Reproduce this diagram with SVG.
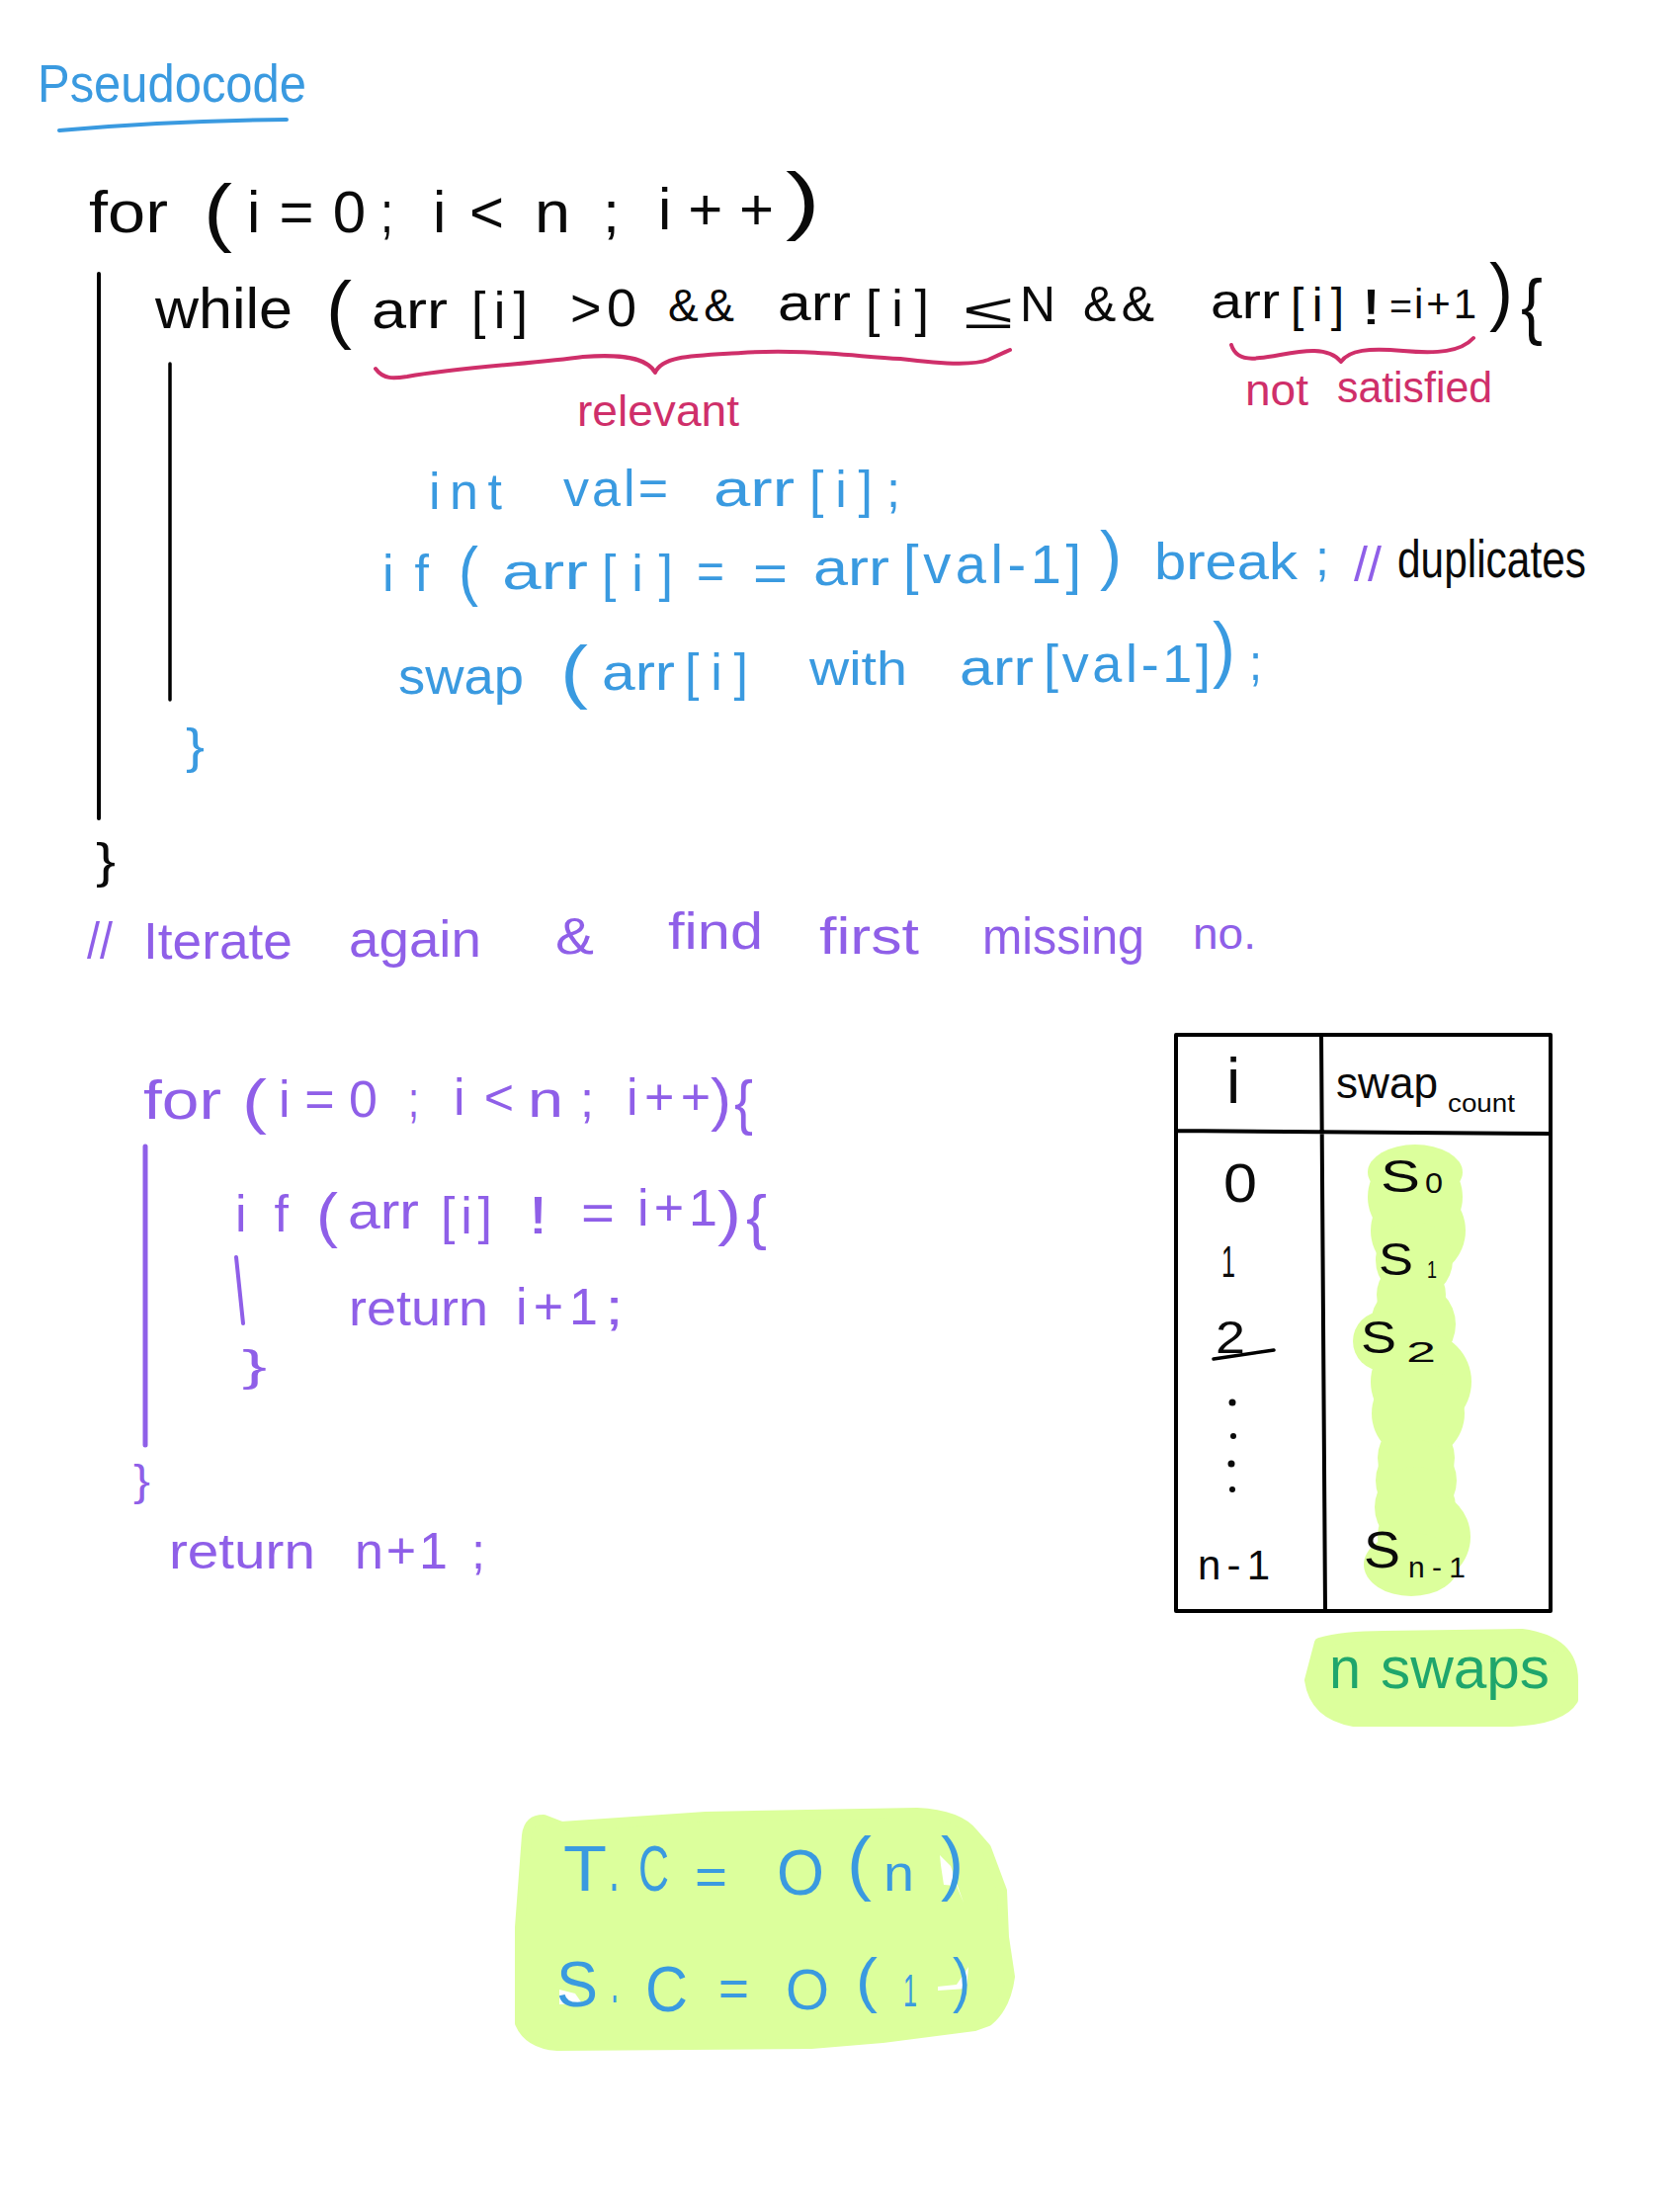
<svg xmlns="http://www.w3.org/2000/svg" width="1700" height="2232" viewBox="0 0 1700 2232">
<style>
text{font-family:"Liberation Sans","DejaVu Sans",sans-serif}
.k{fill:#0a0a0a}.b{fill:#3a9ae0}.p{fill:#8f5fe8}.r{fill:#cf2f6a}.g{fill:#1fa66c}
.ks{stroke:#000;fill:none;stroke-linecap:round;stroke-linejoin:round}
.bs{stroke:#3a9ae0;fill:none;stroke-linecap:round}
.ps{stroke:#8f5fe8;fill:none;stroke-linecap:round}
.rs{stroke:#cf2f6a;fill:none;stroke-width:4;stroke-linecap:round;stroke-linejoin:round}
.hl{fill:#dcff9c;stroke:#dcff9c;stroke-width:10;stroke-linejoin:round}
.bub{fill:#dcff9c}
</style>
<rect width="1700" height="2232" fill="#fff"/>
<g id="highlights">
<g class="bub">
<ellipse cx="1432" cy="1186" rx="48" ry="28"/>
<circle cx="1432" cy="1211" r="48"/><circle cx="1435" cy="1245" r="48"/><circle cx="1431" cy="1275" r="39"/><circle cx="1428" cy="1310" r="35"/><circle cx="1430" cy="1340" r="43"/><circle cx="1399" cy="1357" r="30"/><circle cx="1438" cy="1398" r="51"/><circle cx="1435" cy="1430" r="47"/><circle cx="1433" cy="1475" r="39"/><circle cx="1433" cy="1498" r="41"/><circle cx="1432" cy="1525" r="41"/><circle cx="1441" cy="1555" r="47"/><ellipse cx="1428" cy="1583" rx="48" ry="32"/>
</g>
<path class="hl" d="M1335 1662Q1360 1655 1400 1655L1540 1653Q1592 1660 1592 1700L1592 1720Q1580 1740 1530 1742L1370 1742Q1330 1735 1325 1700Z"/>
<path class="hl" d="M533 1857Q535 1841 550 1841L568 1848L714 1838L928 1834Q970 1836 985 1855L998 1870L1014 1913L1016 1960L1022 2000Q1018 2030 1000 2045L986 2050L893 2062L821 2068L564 2070Q535 2068 526 2047L526 1950Z"/>
<path fill="#fff" d="M951 1877L962 1888L975 1925L968 1908L955 1907L952 1887Z"/>
<path fill="#fff" d="M566 2013L582 2017L589 2027L566 2028Z"/>
<path fill="#fff" d="M949 2010L968 2008L980 1990L978 2012L949 2014Z"/>
</g>
<g id="title">
<text class="b" x="38" y="103" font-size="54" textLength="272" lengthAdjust="spacingAndGlyphs">Pseudocode</text>
<path class="bs" stroke-width="4" d="M60 132Q170 122 290 121"/>
</g>
<g id="for-loop">
<g class="k" font-size="60">
<text x="90" y="235" textLength="80" lengthAdjust="spacingAndGlyphs">for</text>
<text x="206" y="240" font-size="76" textLength="29" lengthAdjust="spacingAndGlyphs">(</text>
<text x="250" y="235" textLength="120" lengthAdjust="spacing">i=0</text>
<text x="385" y="235" textLength="13" lengthAdjust="spacingAndGlyphs">;</text>
<text x="438" y="235" textLength="72" lengthAdjust="spacing">i&lt;</text>
<text x="541" y="235" textLength="36" lengthAdjust="spacingAndGlyphs">n</text>
<text x="610" y="235" textLength="17" lengthAdjust="spacingAndGlyphs">;</text>
<text x="666" y="232" textLength="117" lengthAdjust="spacing">i++</text>
<text x="795" y="228" font-size="76" textLength="35" lengthAdjust="spacingAndGlyphs">)</text>
</g>
<path class="ks" stroke-width="4" d="M100 277V828"/>
<path class="ks" stroke-width="3.5" d="M172 368V708"/>
<g class="k" font-size="50">
<text x="157" y="332" font-size="58" textLength="139" lengthAdjust="spacingAndGlyphs">while</text>
<text x="330" y="338" font-size="76" textLength="26" lengthAdjust="spacingAndGlyphs">(</text>
<text x="376" y="332" font-size="54" textLength="77" lengthAdjust="spacingAndGlyphs">arr</text>
<text x="477" y="332" font-size="52" textLength="57" lengthAdjust="spacing">[i]</text>
<text x="577" y="330" font-size="54" textLength="67" lengthAdjust="spacing">&gt;0</text>
<text x="676" y="325" font-size="46" textLength="67" lengthAdjust="spacing">&amp;&amp;</text>
<text x="787" y="324" font-size="52" textLength="74" lengthAdjust="spacingAndGlyphs">arr</text>
<text x="876" y="330" font-size="52" textLength="64" lengthAdjust="spacing">[i]</text>
<text x="975" y="332" textLength="50" lengthAdjust="spacingAndGlyphs">≤</text>
<text x="1032" y="325" textLength="36" lengthAdjust="spacingAndGlyphs">N</text>
<text x="1096" y="325" textLength="72" lengthAdjust="spacing">&amp;&amp;</text>
<text x="1225" y="322" font-size="50" textLength="70" lengthAdjust="spacingAndGlyphs">arr</text>
<text x="1306" y="325" font-size="48" textLength="54" lengthAdjust="spacing">[i]</text>
<text x="1377" y="328" textLength="21" lengthAdjust="spacingAndGlyphs">!</text>
<text x="1406" y="322" font-size="36" textLength="23" lengthAdjust="spacingAndGlyphs">=</text>
<text x="1431" y="322" font-size="42" textLength="63" lengthAdjust="spacing">i+1</text>
<text x="1507" y="320" font-size="76" textLength="24" lengthAdjust="spacingAndGlyphs">)</text>
<text x="1539" y="335" font-size="74" textLength="22" lengthAdjust="spacingAndGlyphs">{</text>
</g>
<path class="rs" d="M380 373C388 384 398 383 412 381C470 371 540 368 590 361C630 358 655 362 663 377C670 360 700 360 750 357C810 353 860 360 911 363C950 368 985 370 1000 364L1022 354"/>
<path class="rs" d="M1246 349C1250 362 1262 364 1275 362C1300 360 1340 345 1357 366C1365 354 1385 352 1420 355C1455 358 1478 356 1491 342"/>
<g class="r" font-size="44">
<text x="584" y="431" textLength="164" lengthAdjust="spacingAndGlyphs">relevant</text>
<text x="1260" y="410" textLength="64" lengthAdjust="spacingAndGlyphs">not</text>
<text x="1353" y="407" textLength="157" lengthAdjust="spacingAndGlyphs">satisfied</text>
</g>
<g class="b" font-size="52">
<text x="434" y="515" textLength="74" lengthAdjust="spacing">int</text>
<text x="570" y="512" textLength="106" lengthAdjust="spacing">val=</text>
<text x="722" y="512" textLength="82" lengthAdjust="spacingAndGlyphs">arr</text>
<text x="819" y="513" textLength="64" lengthAdjust="spacing">[i]</text>
<text x="897" y="513" textLength="14" lengthAdjust="spacingAndGlyphs">;</text>
<text x="387" y="598" textLength="47" lengthAdjust="spacing">if</text>
<text x="464" y="600" font-size="66" textLength="20" lengthAdjust="spacingAndGlyphs">(</text>
<text x="508" y="596" textLength="87" lengthAdjust="spacingAndGlyphs">arr</text>
<text x="609" y="598" textLength="72" lengthAdjust="spacing">[i]</text>
<text x="705" y="596" textLength="28" lengthAdjust="spacingAndGlyphs">=</text>
<text x="762" y="598" textLength="35" lengthAdjust="spacingAndGlyphs">=</text>
<text x="823" y="592" textLength="77" lengthAdjust="spacingAndGlyphs">arr</text>
<text x="914" y="590" font-size="56" textLength="180" lengthAdjust="spacing">[val-1]</text>
<text x="1113" y="584" font-size="66" textLength="22" lengthAdjust="spacingAndGlyphs">)</text>
<text x="1168" y="586" textLength="145" lengthAdjust="spacingAndGlyphs">break</text>
<text x="1331" y="582" textLength="14" lengthAdjust="spacingAndGlyphs">;</text>
<text x="403" y="702" textLength="127" lengthAdjust="spacingAndGlyphs">swap</text>
<text x="567" y="703" font-size="70" textLength="28" lengthAdjust="spacingAndGlyphs">(</text>
<text x="609" y="698" textLength="74" lengthAdjust="spacingAndGlyphs">arr</text>
<text x="693" y="698" textLength="64" lengthAdjust="spacing">[i]</text>
<text x="819" y="693" font-size="48" textLength="99" lengthAdjust="spacingAndGlyphs">with</text>
<text x="971" y="693" textLength="75" lengthAdjust="spacingAndGlyphs">arr</text>
<text x="1056" y="690" font-size="54" textLength="169" lengthAdjust="spacing">[val-1]</text>
<text x="1227" y="682" font-size="74" textLength="23" lengthAdjust="spacingAndGlyphs">)</text>
<text x="1264" y="688" textLength="13" lengthAdjust="spacingAndGlyphs">;</text>
</g>
<text class="p" x="1370" y="588" font-size="50" textLength="28" lengthAdjust="spacingAndGlyphs">//</text>
<text class="k" x="1414" y="584" font-size="54" textLength="191" lengthAdjust="spacingAndGlyphs">duplicates</text>
<text class="b" x="188" y="772" font-size="50" textLength="19" lengthAdjust="spacingAndGlyphs">}</text>
<text class="k" x="97" y="888" font-size="50" textLength="20" lengthAdjust="spacingAndGlyphs">}</text>
</g>
<g id="second-loop" class="p" font-size="52">
<text x="88" y="970" textLength="26" lengthAdjust="spacingAndGlyphs">//</text>
<text x="145" y="970" textLength="151" lengthAdjust="spacingAndGlyphs">Iterate</text>
<text x="353" y="968" textLength="134" lengthAdjust="spacingAndGlyphs">again</text>
<text x="562" y="965" textLength="39" lengthAdjust="spacingAndGlyphs">&amp;</text>
<text x="676" y="960" textLength="96" lengthAdjust="spacingAndGlyphs">find</text>
<text x="829" y="965" textLength="101" lengthAdjust="spacingAndGlyphs">first</text>
<text x="994" y="965" textLength="164" lengthAdjust="spacingAndGlyphs">missing</text>
<text x="1207" y="960" font-size="44" textLength="64" lengthAdjust="spacingAndGlyphs">no.</text>
<text x="145" y="1132" font-size="56" textLength="79" lengthAdjust="spacingAndGlyphs">for</text>
<text x="245" y="1135" font-size="62" textLength="25" lengthAdjust="spacingAndGlyphs">(</text>
<text x="282" y="1130" textLength="100" lengthAdjust="spacing">i=0</text>
<text x="413" y="1130" textLength="11" lengthAdjust="spacingAndGlyphs">;</text>
<text x="459" y="1128" textLength="61" lengthAdjust="spacing">i&lt;</text>
<text x="534" y="1130" textLength="36" lengthAdjust="spacingAndGlyphs">n</text>
<text x="587" y="1130" textLength="14" lengthAdjust="spacingAndGlyphs">;</text>
<text x="634" y="1128" textLength="85" lengthAdjust="spacing">i++</text>
<text x="719" y="1133" font-size="60" textLength="21" lengthAdjust="spacingAndGlyphs">)</text>
<text x="743" y="1136" font-size="62" textLength="19" lengthAdjust="spacingAndGlyphs">{</text>
<path class="ps" stroke-width="5" d="M147 1160V1462"/>
<text x="238" y="1246" textLength="54" lengthAdjust="spacing">if</text>
<text x="320" y="1250" font-size="62" textLength="22" lengthAdjust="spacingAndGlyphs">(</text>
<text x="352" y="1243" textLength="72" lengthAdjust="spacingAndGlyphs">arr</text>
<text x="446" y="1248" textLength="52" lengthAdjust="spacing">[i]</text>
<text x="534" y="1248" font-size="54" textLength="21" lengthAdjust="spacingAndGlyphs">!</text>
<text x="588" y="1245" textLength="34" lengthAdjust="spacingAndGlyphs">=</text>
<text x="645" y="1240" textLength="81" lengthAdjust="spacing">i+1</text>
<text x="726" y="1248" font-size="62" textLength="24" lengthAdjust="spacingAndGlyphs">)</text>
<text x="755" y="1252" font-size="62" textLength="21" lengthAdjust="spacingAndGlyphs">{</text>
<path class="ps" stroke-width="4" d="M239 1272L246 1339"/>
<text x="353" y="1341" font-size="50" textLength="141" lengthAdjust="spacingAndGlyphs">return</text>
<text x="522" y="1340" textLength="83" lengthAdjust="spacing">i+1</text>
<text x="612" y="1340" textLength="19" lengthAdjust="spacingAndGlyphs">;</text>
<text x="245" y="1397" font-size="44" textLength="25" lengthAdjust="spacingAndGlyphs">}</text>
<text x="135" y="1513" font-size="44" textLength="17" lengthAdjust="spacingAndGlyphs">}</text>
<text x="171" y="1587" font-size="50" textLength="148" lengthAdjust="spacingAndGlyphs">return</text>
<text x="359" y="1587" textLength="94" lengthAdjust="spacing">n+1</text>
<text x="477" y="1587" textLength="14" lengthAdjust="spacingAndGlyphs">;</text>
</g>
<g id="table">
<path class="ks" stroke-width="4" d="M1190 1047H1569V1630H1190ZM1337 1047L1341 1630M1190 1144L1569 1147"/>
<g class="k">
<text x="1241" y="1116" font-size="64" font-weight="400" textLength="14" lengthAdjust="spacing">i</text>
<text x="1352" y="1111" font-size="44" textLength="103" lengthAdjust="spacingAndGlyphs">swap</text>
<text x="1465" y="1125" font-size="26" textLength="68" lengthAdjust="spacingAndGlyphs">count</text>
<text x="1238" y="1216" font-size="56" textLength="34" lengthAdjust="spacingAndGlyphs">0</text>
<text x="1236" y="1292" font-size="44" textLength="14" lengthAdjust="spacingAndGlyphs">1</text>
<text x="1230" y="1369" font-size="46" textLength="30" lengthAdjust="spacingAndGlyphs">2</text>
<path class="ks" stroke-width="3.5" d="M1228 1375L1289 1366"/>
<circle cx="1247" cy="1419" r="3.5"/><circle cx="1248" cy="1453" r="3"/><circle cx="1246" cy="1481" r="3.5"/><circle cx="1247" cy="1507" r="3"/>
<text x="1212" y="1598" font-size="42" textLength="73" lengthAdjust="spacing">n-1</text>
<text x="1397" y="1206" font-size="46" textLength="40" lengthAdjust="spacingAndGlyphs">S</text>
<text x="1442" y="1207" font-size="30" textLength="18" lengthAdjust="spacingAndGlyphs">0</text>
<text x="1395" y="1290" font-size="46" textLength="35" lengthAdjust="spacingAndGlyphs">S</text>
<text x="1444" y="1293" font-size="24" textLength="10" lengthAdjust="spacingAndGlyphs">1</text>
<text x="1377" y="1369" font-size="46" textLength="36" lengthAdjust="spacingAndGlyphs">S</text>
<text x="1423" y="1378" font-size="30" textLength="30" lengthAdjust="spacingAndGlyphs">2</text>
<text x="1380" y="1586" font-size="52" textLength="37" lengthAdjust="spacingAndGlyphs">S</text>
<text x="1425" y="1596" font-size="30" textLength="58" lengthAdjust="spacing">n-1</text>
</g>
</g>
<g id="n-swaps" class="g" font-size="60">
<text x="1345" y="1708" textLength="32" lengthAdjust="spacingAndGlyphs">n</text>
<text x="1397" y="1708" textLength="171" lengthAdjust="spacingAndGlyphs">swaps</text>
</g>
<g id="complexity" class="b" font-size="64">
<text x="570" y="1913" textLength="44" lengthAdjust="spacingAndGlyphs">T</text>
<text x="616" y="1913" textLength="11" lengthAdjust="spacingAndGlyphs">.</text>
<text x="646" y="1913" textLength="31" lengthAdjust="spacingAndGlyphs">C</text>
<text x="703" y="1917" font-size="54" textLength="33" lengthAdjust="spacingAndGlyphs">=</text>
<text x="786" y="1917" textLength="48" lengthAdjust="spacingAndGlyphs">O</text>
<text x="857" y="1909" font-size="72" textLength="25" lengthAdjust="spacingAndGlyphs">(</text>
<text x="894" y="1913" font-size="52" textLength="31" lengthAdjust="spacingAndGlyphs">n</text>
<text x="952" y="1909" font-size="72" textLength="23" lengthAdjust="spacingAndGlyphs">)</text>
<text x="563" y="2030" textLength="42" lengthAdjust="spacingAndGlyphs">S</text>
<text x="618" y="2026" textLength="8" lengthAdjust="spacingAndGlyphs">.</text>
<text x="653" y="2035" textLength="43" lengthAdjust="spacingAndGlyphs">C</text>
<text x="727" y="2030" font-size="54" textLength="31" lengthAdjust="spacingAndGlyphs">=</text>
<text x="795" y="2033" font-size="58" textLength="44" lengthAdjust="spacingAndGlyphs">O</text>
<text x="866" y="2024" font-size="62" textLength="22" lengthAdjust="spacingAndGlyphs">(</text>
<text x="914" y="2030" font-size="46" textLength="14" lengthAdjust="spacingAndGlyphs">1</text>
<text x="964" y="2024" font-size="62" textLength="18" lengthAdjust="spacingAndGlyphs">)</text>
</g>
</svg>
